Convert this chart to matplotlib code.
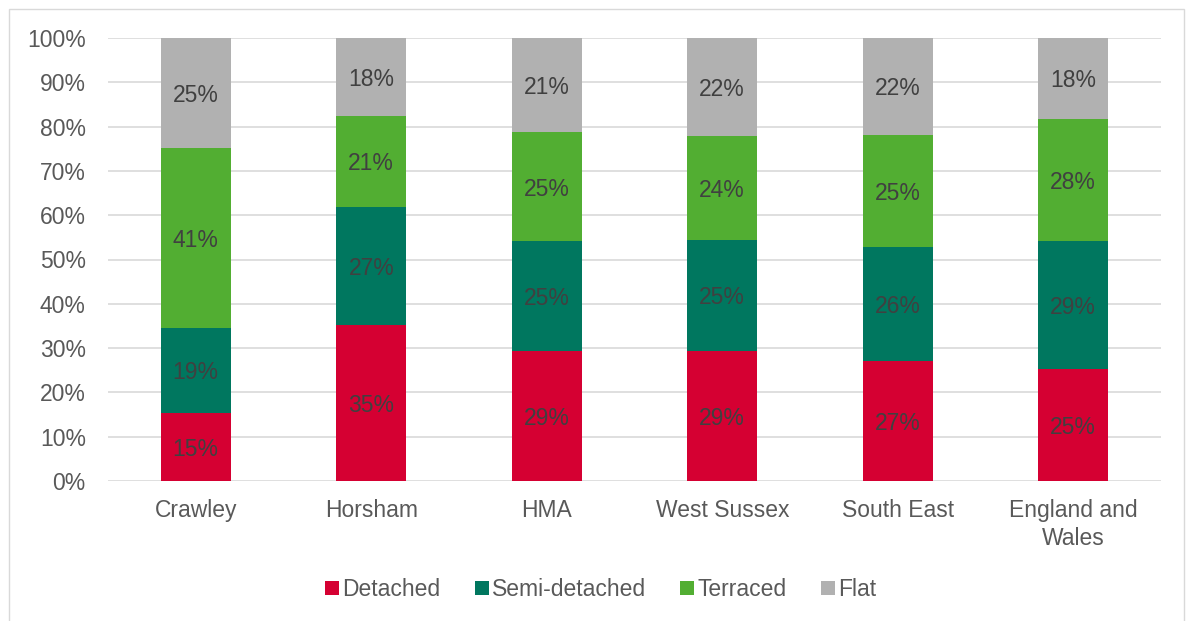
import numpy as np
import matplotlib
matplotlib.use("Agg")
import matplotlib.pyplot as plt
from matplotlib.patches import Rectangle

plt.rcParams['font.family'] = ['Liberation Sans', 'DejaVu Sans']

# Données
areas = ['Crawley', 'Horsham', 'HMA', 'West Sussex', 'South East', 'England and\nWales']
detached = [15.3, 35.2, 29.3, 29.3, 27.1, 25.3]
semi = [19.2, 26.6, 24.8, 25.1, 25.7, 28.9]
terraced = [40.7, 20.6, 24.6, 23.5, 25.3, 27.5]
flat = [24.8, 17.6, 21.3, 22.1, 21.9, 18.3]

series = [('Detached', detached, '#D50032'),
          ('Semi-detached', semi, '#00775F'),
          ('Terraced', terraced, '#52AE32'),
          ('Flat', flat, '#B1B1B1')]

fs = 16.5

fig = plt.figure(figsize=(11.9, 6.21), dpi=100)
fig.patches.append(Rectangle((9/1190, -0.01), 1175/1190, 1 - 9/621 + 0.01,
                             transform=fig.transFigure, fill=False,
                             edgecolor='#D9D9D9', linewidth=1))
ax = fig.add_axes([108/1190, 1 - 481/621, 1053/1190, 443/621])

x = np.arange(len(areas))
bottom = np.zeros(len(areas))
for name, vals, col in series:
    vals = np.array(vals)
    ax.bar(x, vals, 0.4, bottom=bottom, color=col, label=name, zorder=2)
    for xi, b, v in zip(x, bottom, vals):
        ax.text(xi, b + v / 2 - 0.5, '%d%%' % round(v), ha='center', va='center',
                fontsize=fs, color='#404040', zorder=3)
    bottom += vals

ax.set_xlim(-0.5, 5.5)
ax.set_ylim(0, 100)
ax.set_yticks(np.arange(0, 101, 10))
ax.set_yticklabels(['%d%%' % v for v in range(0, 101, 10)])
ax.set_xticks(x)
ax.set_xticklabels(areas, linespacing=1.25)
ax.tick_params(axis='both', length=0, labelsize=fs, colors='#595959')
ax.tick_params(axis='y', pad=16)
ax.tick_params(axis='x', pad=13)
ax.grid(axis='y', color='#D9D9D9', linewidth=1.2, zorder=0)
for s in ax.spines.values():
    s.set_visible(False)

leg = ax.legend(loc='center', bbox_to_anchor=(0.468, -0.245), ncol=4, frameon=False,
                fontsize=fs, handlelength=0.6, handleheight=0.6, handletextpad=0.15,
                columnspacing=1.5, labelcolor='#595959')

fig.savefig('out.png', dpi=100)
